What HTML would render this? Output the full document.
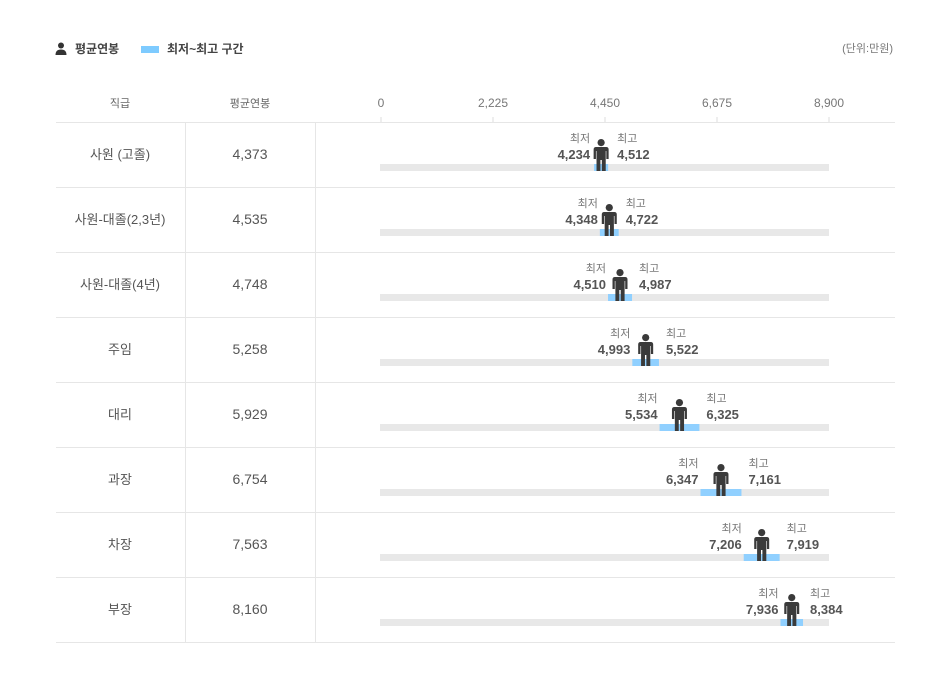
<!DOCTYPE html>
<html><head><meta charset="utf-8"><style>
body{margin:0;background:#fff;font-family:"Liberation Sans","Noto Sans CJK KR",sans-serif;}
#wrap{position:relative;width:949px;height:691px;overflow:hidden;}
</style></head><body>
<div id="wrap">
<svg id="svg" width="949" height="691" style="position:absolute;left:0;top:0"></svg>
</div>
<script>
const categories=["사원 (고졸)","사원-대졸(2,3년)","사원-대졸(4년)","주임","대리","과장","차장","부장"];
const avgValues=[4373,4535,4748,5258,5929,6754,7563,8160];
const minValues=[4234,4348,4510,4993,5534,6347,7206,7936];
const maxValues=[4512,4722,4987,5522,6325,7161,7919,8384];
const tickValues=[0,2225,4450,6675,8900];

const NS="http://www.w3.org/2000/svg";
const svg=document.getElementById('svg');
const X0=381,X1=829,DMAX=8900;
function xs(v){return X0+(X1-X0)*v/DMAX;}
const ROW0=122,RH=65;
function fmt(v){return v.toLocaleString('en-US');}
function el(tag,attrs,parent){const e=document.createElementNS(NS,tag);for(const k in attrs)e.setAttribute(k,attrs[k]);(parent||svg).appendChild(e);return e;}
function txt(x,y,s,opts,parent){const e=el('text',Object.assign({x:x,y:y,'font-size':13,fill:'#555','font-family':'"Liberation Sans","Noto Sans CJK KR",sans-serif'},opts||{}),parent);e.textContent=s;return e;}
function person(cx,bottom,h,parent,color){
  const s=h/32;const g=el('g',{transform:`translate(${cx},${bottom-32*s}) scale(${s})`,fill:color},parent);
  el('circle',{cx:0,cy:3.6,r:3.6},g);
  el('path',{d:'M-5,8 H5 Q7.5,8 7.5,10.5 V20 H5.2 V12 H4.6 V32 H0.7 V21 H-0.7 V32 H-4.6 V12 H-5.2 V20 H-7.5 V10.5 Q-7.5,8 -5,8 Z'},g);
  return g;
}
let lg=el('g',{},svg);


el('circle',{cx:61,cy:45.5,r:3,fill:'#333'},lg);
el('path',{d:'M55.5,55 Q55.5,49.5 61,49.5 Q66.5,49.5 66.5,55 Z',fill:'#333'},lg);
txt(75,53,'평균연봉',{'font-size':12,'font-weight':'bold',fill:'#444'},lg);
let lr=el('g',{},svg);


el('rect',{x:141,y:46,width:18,height:7,fill:'#7ecbff'},lr);
txt(167,53,'최저~최고 구간',{'font-size':12,'font-weight':'bold',fill:'#444'},lr);
let un=txt(893,52,'(단위:만원)',{'font-size':11,fill:'#777','text-anchor':'end'});


let h1=txt(120,107,'직급',{'font-size':11,fill:'#666','text-anchor':'middle'});


let h2=txt(250,107,'평균연봉',{'font-size':11,fill:'#666','text-anchor':'middle'});


tickValues.forEach(v=>{
  let t=txt(xs(v),107,fmt(v),{'font-size':12,fill:'#777','text-anchor':'middle'});
  
  
  el('line',{x1:xs(v),x2:xs(v),y1:117,y2:122,stroke:'#ddd'});
});
el('line',{x1:56,x2:895,y1:122.5,y2:122.5,stroke:'#e6e6e6'});
categories.forEach((c,i)=>{
  const top=ROW0+i*RH;
  const g=el('g',{},svg);
  
  
  el('line',{x1:56,x2:895,y1:top+RH+0.5,y2:top+RH+0.5,stroke:'#e6e6e6'},g);
  el('line',{x1:185.5,x2:185.5,y1:top,y2:top+RH,stroke:'#e6e6e6'},g);
  el('line',{x1:315.5,x2:315.5,y1:top,y2:top+RH,stroke:'#e6e6e6'},g);
  const cl=txt(120,top+37,c,{'font-size':13,fill:'#555','text-anchor':'middle'},g);
  
  
  const al=txt(250,top+37,fmt(avgValues[i]),{'font-size':14,fill:'#555','text-anchor':'middle'},g);
  
  
  const tr=el('rect',{x:X0-1,y:top+42,width:X1-X0+1,height:7,fill:'#e8e8e8'},g);
  
  
  const mn=xs(minValues[i]),mx=xs(maxValues[i]),av=xs(avgValues[i]);
  const rb=el('rect',{x:mn,y:top+42,width:mx-mn,height:7,fill:'#90d0ff'},g);
  
  
  const p=person(av,top+49,32,g,'#3a3a3a');
  
  
  const lx=Math.min(mn,av-9)-2, rx=Math.max(mx,av+9)+7;
  txt(lx,top+20,'최저',{'font-size':11,fill:'#777','text-anchor':'end'},g);
  const ml=txt(lx,top+37,fmt(minValues[i]),{'font-size':13,'font-weight':'bold',fill:'#555','text-anchor':'end'},g);
  
  
  txt(rx,top+20,'최고',{'font-size':11,fill:'#777'},g);
  const xl=txt(rx,top+37,fmt(maxValues[i]),{'font-size':13,'font-weight':'bold',fill:'#555'},g);
  
  
});
</script>
</body></html>
